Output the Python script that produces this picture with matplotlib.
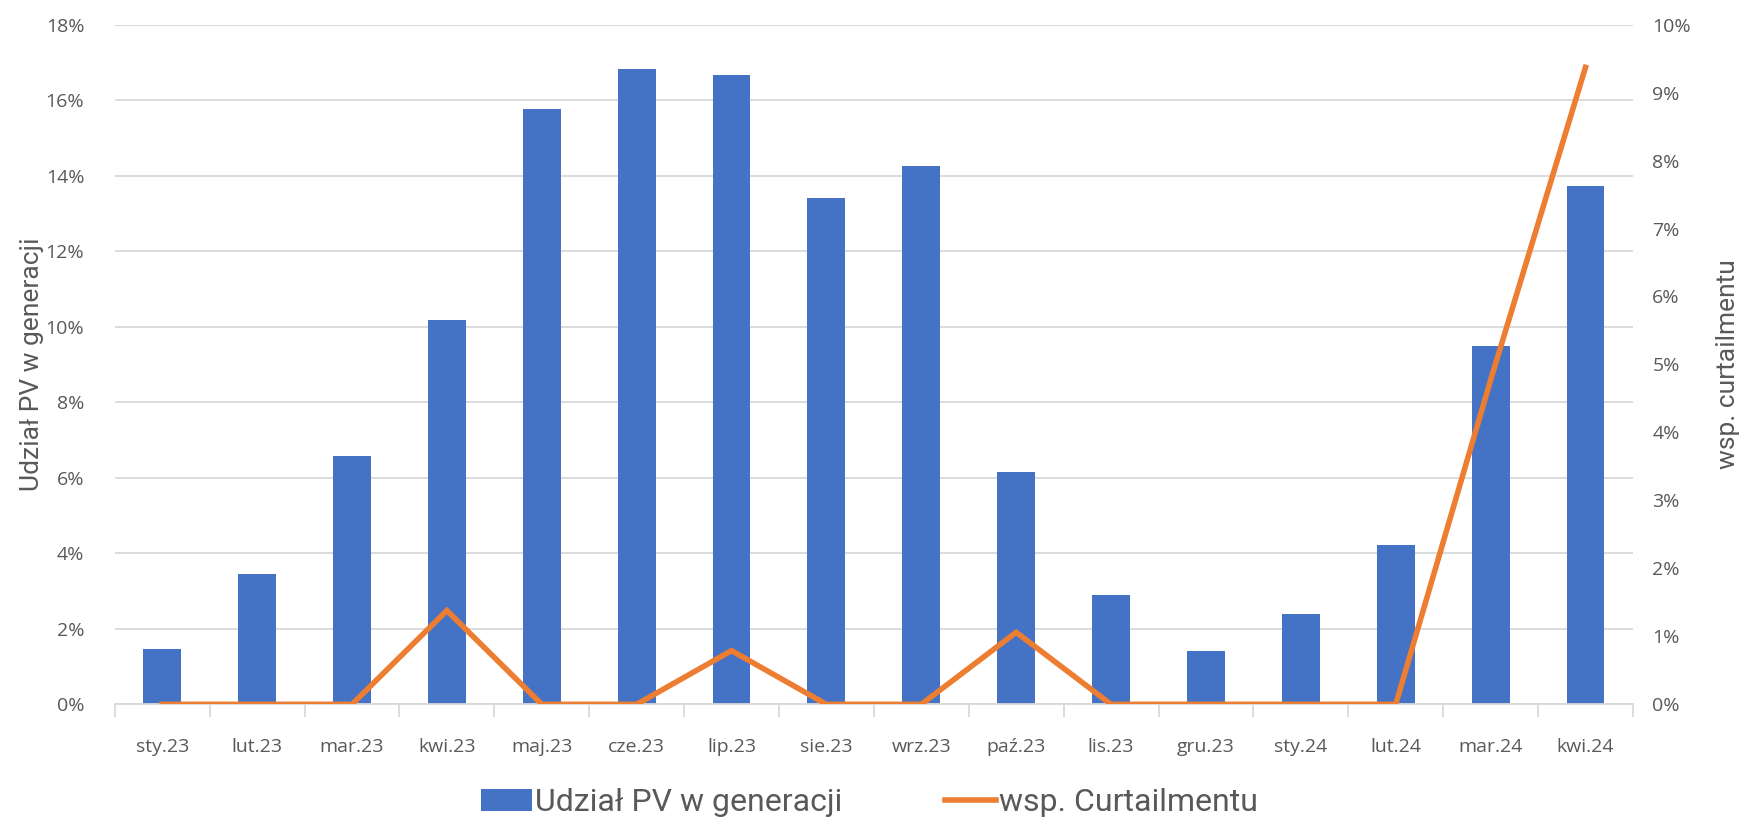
import numpy as np
import matplotlib.pyplot as plt
from matplotlib.ticker import PercentFormatter, FixedLocator

# dane
miesiace = ["sty.23", "lut.23", "mar.23", "kwi.23", "maj.23", "cze.23", "lip.23", "sie.23",
            "wrz.23", "paź.23", "lis.23", "gru.23", "sty.24", "lut.24", "mar.24", "kwi.24"]
udzial_pv = [1.47, 3.46, 6.57, 10.19, 15.77, 16.82, 16.67, 13.41,
             14.26, 6.15, 2.90, 1.42, 2.38, 4.23, 9.49, 13.72]
curtailment = [0.0, 0.0, 0.0, 1.38, 0.0, 0.0, 0.79, 0.0,
               0.0, 1.06, 0.0, 0.0, 0.0, 0.0, 4.77, 9.37]

niebieski = "#4472C4"
pomaranczowy = "#ED7D31"
szary = "#595959"
siatka = "#D9D9D9"

font_tick = ["Open Sans", "DejaVu Sans"]
font_label = ["Liberation Sans Narrow", "Roboto", "DejaVu Sans"]

fig = plt.figure(figsize=(17.39, 8.19), dpi=100)
ax = fig.add_axes([0.066, 0.140, 0.873, 0.830])
ax2 = ax.twinx()

x = np.arange(len(miesiace))
slupki = ax.bar(x, udzial_pv, width=0.4, color=niebieski, zorder=2,
                label="Udział PV w generacji")
linia, = ax2.plot(x, curtailment, color=pomaranczowy, lw=4, zorder=3,
                  solid_joinstyle="miter", label="wsp. Curtailmentu")

ax.set_xlim(-0.5, len(miesiace) - 0.5)
ax.set_ylim(0, 18)
ax2.set_ylim(0, 10)
ax.set_yticks(np.arange(0, 19, 2))
ax2.set_yticks(np.arange(0, 11, 1))
ax.yaxis.set_major_formatter(PercentFormatter(decimals=0))
ax2.yaxis.set_major_formatter(PercentFormatter(decimals=0))

ax.grid(axis="y", color=siatka, lw=1.3, zorder=0)
ax.set_axisbelow(True)

for a in (ax, ax2):
    for s in ("top", "left", "right"):
        a.spines[s].set_visible(False)
ax.spines["bottom"].set_color(siatka)
ax.spines["bottom"].set_linewidth(1.3)
ax2.spines["bottom"].set_visible(False)

ax.set_xticks(x)
ax.set_xticklabels(miesiace)
ax.xaxis.set_minor_locator(FixedLocator(np.arange(-0.5, len(miesiace), 1)))
ax.tick_params(axis="x", which="major", length=0, pad=24)
ax.tick_params(axis="x", which="minor", length=9, color=siatka, width=1.3)
ax.tick_params(axis="y", length=0, pad=22)
ax2.tick_params(axis="y", length=0, pad=14)

for lab in ax.get_xticklabels() + ax.get_yticklabels() + ax2.get_yticklabels():
    lab.set_family(font_tick)
    lab.set_fontsize(14)
    lab.set_color(szary)

ax.set_ylabel("Udział PV w generacji", family=font_label, fontsize=19, color=szary, labelpad=1)
ax2.set_ylabel("wsp. curtailmentu", family=font_label, fontsize=19, color=szary, labelpad=18)

leg = fig.legend([slupki, linia], ["Udział PV w generacji", "wsp. Curtailmentu"],
                 loc="center", bbox_to_anchor=(0.5, 0.02), ncol=2, frameon=False,
                 prop={"family": font_label, "size": 23}, handlelength=1.6,
                 handletextpad=0.1, columnspacing=3.2)
for t in leg.get_texts():
    t.set_color(szary)

fig.savefig("out.png", dpi=100)
